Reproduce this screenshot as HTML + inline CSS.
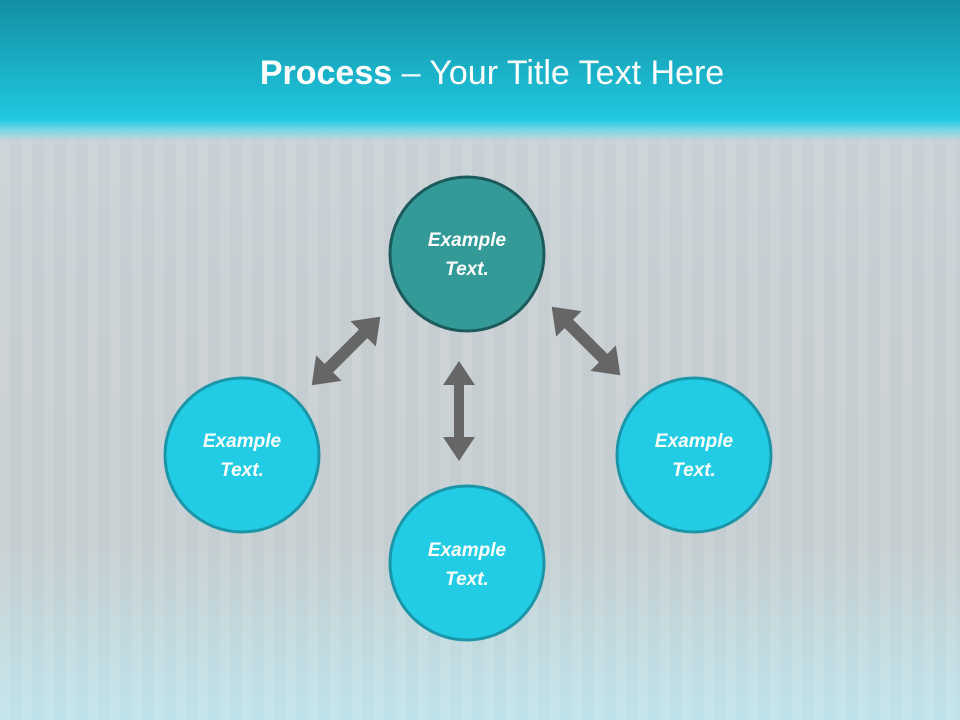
<!DOCTYPE html>
<html><head><meta charset="utf-8"><style>
html,body{margin:0;padding:0}
body{width:960px;height:720px;overflow:hidden;position:relative;font-family:"Liberation Sans",sans-serif;
background:linear-gradient(180deg,#c9d3d8 0%,#c6cdd1 50%,#c4cdd0 75%,#bfe3ea 100%);}
.stripes{position:absolute;left:0;top:0;width:960px;height:720px;
background:repeating-linear-gradient(90deg,rgba(255,255,255,0.10) 0 10px,rgba(255,255,255,0) 10px 22px);}
.hdr{position:absolute;left:0;top:0;width:960px;height:150px;
background:linear-gradient(180deg,#138fa3 0%,#1aafc6 45%,#20c8e0 80%,#7fd8e6 87%,rgba(200,212,218,0.5) 94%,rgba(200,210,216,0) 100%);}
.title{position:absolute;left:12px;top:54px;width:960px;text-align:center;color:#fff;font-size:34px;}
</style></head><body>
<div class="stripes"></div>
<div class="hdr"></div>
<div class="title"><b>Process</b> – Your Title Text Here</div>
<svg width="960" height="720" style="position:absolute;left:0;top:0">
<defs>
<g id="dbl">
<polygon points="0,-50 16,-26 5,-26 5,26 16,26 0,50 -16,26 -5,26 -5,-26 -16,-26" fill="#666"/>
</g>
<g id="dbl2">
<polygon points="0,-50 18,-25 6,-25 6,25 18,25 0,50 -18,25 -6,25 -6,-25 -18,-25" fill="#666"/>
</g>
</defs>
<use href="#dbl2" transform="translate(346,351) rotate(45) scale(1,0.97)"/>
<use href="#dbl2" transform="translate(586,341) rotate(-45) scale(1,0.97)"/>
<use href="#dbl" transform="translate(459,411)"/>
<g font-family="Liberation Sans, sans-serif" font-size="19" font-weight="bold" font-style="italic" fill="#fff" text-anchor="middle">
<circle cx="467" cy="254" r="77" fill="#339a98" stroke="#1d5a5c" stroke-width="3"/>
<text x="467" y="246">Example</text><text x="467" y="275">Text.</text>
<circle cx="242" cy="455" r="77" fill="#22cce4" stroke="#1a96a8" stroke-width="3"/>
<text x="242" y="447">Example</text><text x="242" y="476">Text.</text>
<circle cx="694" cy="455" r="77" fill="#22cce4" stroke="#1a96a8" stroke-width="3"/>
<text x="694" y="447">Example</text><text x="694" y="476">Text.</text>
<circle cx="467" cy="563" r="77" fill="#22cce4" stroke="#1a96a8" stroke-width="3"/>
<text x="467" y="556">Example</text><text x="467" y="585">Text.</text>
</g>
</svg>
</body></html>
